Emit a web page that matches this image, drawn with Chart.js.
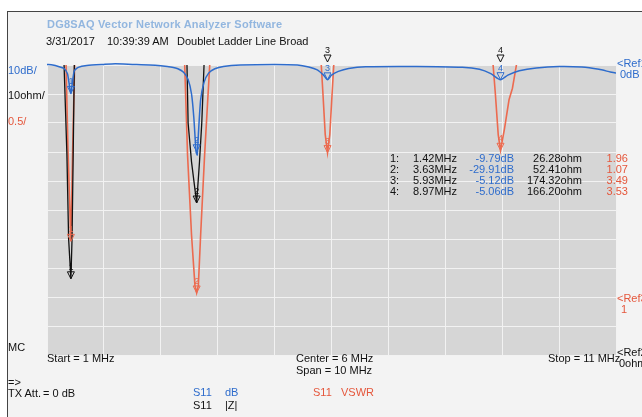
<!DOCTYPE html>
<html>
<head>
<meta charset="utf-8">
<script src="https://cdn.jsdelivr.net/npm/chart.js@4.4.0/dist/chart.umd.min.js"></script>
<style>
html, body { margin: 0; padding: 0; background: #fff; }
#wrap { position: relative; width: 642px; height: 417px; overflow: hidden; font-family: "Liberation Sans", Arial, sans-serif; font-size: 11px; color: #111; }
#frame { position: absolute; left: 7px; top: 11px; right: 0; bottom: 0; background: #f3f3f3; border-left: 1px solid #444; border-top: 1px solid #444; }
#chart { position: absolute; left: 0; top: 0; }
.t { position: absolute; white-space: pre; line-height: 12px; }
.blue { color: #2e6ccc; }
.red { color: #e5573c; }
.title { color: #92b6df; font-weight: bold; font-size: 11px; letter-spacing: 0.2px; }
.mk { position: absolute; font-size: 9px; line-height: 10px; width: 10px; text-align: center; }
.r { text-align: right; }
</style>
</head>
<body>
<div id="wrap">
  <div id="frame"></div>
  <canvas id="chart" width="642" height="417"></canvas>

  <div class="t title" style="left:47px;top:18px;">DG8SAQ Vector Network Analyzer Software</div>
  <div class="t" style="left:46px;top:35px;">3/31/2017</div>
  <div class="t" style="left:107px;top:35px;">10:39:39 AM</div>
  <div class="t" style="left:177px;top:35px;">Doublet Ladder Line Broad</div>

  <div class="t blue" style="left:8px;top:64px;">10dB/</div>
  <div class="t" style="left:8px;top:89px;">10ohm/</div>
  <div class="t red" style="left:8px;top:115px;">0.5/</div>

  <div class="t blue" style="left:617px;top:57px;">&lt;Ref1</div>
  <div class="t blue" style="left:620px;top:68px;">0dB</div>
  <div class="t red" style="left:617px;top:292px;">&lt;Ref3</div>
  <div class="t red" style="left:621px;top:303px;">1</div>
  <div class="t" style="left:617px;top:346px;">&lt;Ref2</div>
  <div class="t" style="left:619px;top:357px;">0ohm</div>

  <div class="t" style="left:8px;top:341px;">MC</div>
  <div class="t" id="startLbl" style="left:47px;top:352px;"></div>
  <div class="t" id="centerLbl" style="left:296px;top:352px;"></div>
  <div class="t" id="spanLbl" style="left:296px;top:364px;"></div>
  <div class="t" id="stopLbl" style="left:548px;top:352px;"></div>

  <div class="t" style="left:8px;top:376px;">=&gt;</div>
  <div class="t" style="left:8px;top:387px;">TX Att.</div>
  <div class="t" style="left:43px;top:387px;">= 0 dB</div>

  <div class="t blue" style="left:193px;top:386px;">S11</div>
  <div class="t blue" style="left:225px;top:386px;">dB</div>
  <div class="t red" style="left:313px;top:386px;">S11</div>
  <div class="t red" style="left:341px;top:386px;">VSWR</div>
  <div class="t" style="left:193px;top:399px;">S11</div>
  <div class="t" style="left:225px;top:399px;">|Z|</div>

  <div id="table"></div>
</div>
<script>
// sweep
const startMHz = 1;
const stopMHz = 11;

// S11 in dB (blue)
const freqDb = [1.00, 1.10, 1.20, 1.30, 1.36, 1.40, 1.42, 1.44, 1.48, 1.55, 1.70, 2.00, 2.20, 2.50, 2.80, 3.00,
  3.20, 3.30, 3.40, 3.48, 3.54, 3.58, 3.62, 3.64, 3.66, 3.70, 3.76, 3.84, 3.95, 4.10, 4.40, 5.00,
  5.40, 5.60, 5.75, 5.86, 5.93, 6.00, 6.12, 6.30, 6.60, 7.50, 8.30, 8.60, 8.80, 8.97, 9.10, 9.30,
  9.60, 10.00, 10.40, 10.70, 10.90, 11.00];
const s11Db = [0.2, 0.0, -0.5, -1.2, -3, -8, -9.8, -7, -2, -0.8, -0.2, 0.2, 0.4, 0.2, 0.0, -0.3,
  -0.8, -1.3, -2.5, -5, -10, -18, -30, -31, -24, -12, -6, -2.8, -1.3, -0.5, 0.0, 0.2,
  0.0, -0.7, -1.7, -3.5, -5.1, -3.5, -2.2, -1.2, -0.6, -0.5, -0.8, -1.5, -3, -5.1, -3.5, -2,
  -1, -0.5, -0.7, -1.5, -2.4, -2.8];

// VSWR (red)
const freqVswr = [1.00, 1.30, 1.33, 1.37, 1.42, 1.45, 1.49, 1.52, 2.50, 3.40, 3.42, 3.47, 3.54, 3.60, 3.63,
  3.66, 3.70, 3.77, 3.86, 3.89, 4.80, 5.79, 5.82, 5.85, 5.89, 5.93, 5.97, 6.01, 6.04, 6.07, 7.50,
  8.81, 8.84, 8.88, 8.93, 8.97, 9.04, 9.12, 9.18, 9.25, 9.29, 10.20, 11.00];
const vswr = [20, 9, 5.2, 3.5, 1.96, 3.5, 5.2, 9, 20, 7, 5, 3.45, 2.07, 1.2, 1.07,
  1.2, 2.07, 3.45, 5, 7, 20, 7, 5, 4.5, 3.8, 3.49, 3.8, 4.5, 5, 7, 20,
  7, 5, 4.5, 3.8, 3.53, 3.9, 4.4, 4.6, 5, 7, 20, 20];

// |Z| in ohm (black)
const freqZ = [1.00, 1.28, 1.30, 1.35, 1.38, 1.42, 1.44, 1.46, 1.48, 1.50, 2.50, 3.44, 3.46, 3.48, 3.54,
  3.63, 3.68, 3.72, 3.76, 3.78, 5.00, 11.00];
const zOhm = [200, 130, 100, 69, 40, 26.3, 40, 69, 100, 130, 200, 130, 100, 80, 66.6,
  52.4, 66.6, 80, 100, 130, 200, 200];

// markers
const markerFreq = [1.42, 3.63, 5.93, 8.97];
const markerDb = [-9.79, -29.91, -5.12, -5.06];
const markerOhm = [26.28, 52.41, 174.32, 166.20];
const markerVswr = [1.96, 1.07, 3.49, 3.53];

const BLUE = '#2e6ccc', RED = '#ec6a4f', BLACK = '#111';

const pts = (xs, ys) => xs.map((x, i) => ({ x: x, y: ys[i] }));

document.getElementById('startLbl').textContent = 'Start = ' + startMHz + ' MHz';
document.getElementById('centerLbl').textContent = 'Center = ' + (startMHz + stopMHz) / 2 + ' MHz';
document.getElementById('spanLbl').textContent = 'Span = ' + (stopMHz - startMHz) + ' MHz';
document.getElementById('stopLbl').textContent = 'Stop = ' + stopMHz + ' MHz';

// marker readout table
const table = document.getElementById('table');
const rowTop = [152, 163, 174, 185];
markerFreq.forEach((f, i) => {
  const top = rowTop[i];
  const cells = [
    ['t', 390, null, (i + 1) + ':', ''],
    ['t', 413, null, f.toFixed(2) + 'MHz', ''],
    ['t r blue', null, 514, markerDb[i].toFixed(2) + 'dB', ''],
    ['t r', null, 582, markerOhm[i].toFixed(2) + 'ohm', ''],
    ['t r red', null, 628, markerVswr[i].toFixed(2), '']
  ];
  cells.forEach(c => {
    const d = document.createElement('div');
    d.className = c[0];
    d.style.top = top + 'px';
    if (c[1] !== null) d.style.left = c[1] + 'px';
    else d.style.right = (642 - c[2]) + 'px';
    d.textContent = c[3];
    table.appendChild(d);
  });
});

const plotBg = {
  id: 'plotBg',
  beforeDraw(chart) {
    const a = chart.chartArea, ctx = chart.ctx;
    ctx.save();
    ctx.fillStyle = '#d6d6d6';
    ctx.fillRect(a.left, a.top, a.right - a.left, a.bottom - a.top);
    ctx.restore();
  }
};

function markerSpots(chart) {
  const out = [];
  markerFreq.forEach((f, i) => {
    const px = chart.scales.x.getPixelForValue(f);
    [['yV', markerVswr[i], RED], ['yZ', markerOhm[i], BLACK], ['y', markerDb[i], BLUE]].forEach(m => {
      const s = chart.scales[m[0]];
      let py = s.getPixelForValue(m[1]);
      if (m[1] > s.max) py = chart.chartArea.top - 3;
      out.push({ px: px, py: py, color: m[2], n: i + 1 });
    });
  });
  return out;
}

const markers = {
  id: 'markers',
  afterDatasetsDraw(chart) {
    const ctx = chart.ctx;
    ctx.save();
    ctx.lineWidth = 1;
    markerSpots(chart).forEach(m => {
      ctx.strokeStyle = m.color;
      ctx.beginPath();
      ctx.moveTo(m.px - 3.5, m.py - 7);
      ctx.lineTo(m.px + 3.5, m.py - 7);
      ctx.lineTo(m.px, m.py);
      ctx.closePath();
      ctx.stroke();
    });
    ctx.restore();
  }
};

const chart = new Chart(document.getElementById('chart'), {
  type: 'line',
  data: {
    datasets: [
      { data: pts(freqDb, s11Db), yAxisID: 'y', borderColor: BLUE, borderWidth: 1.5, pointRadius: 0, tension: 0.2,
        clip: { left: 0, top: 8, right: 0, bottom: 0 } },
      { data: pts(freqZ, zOhm), yAxisID: 'yZ', borderColor: BLACK, borderWidth: 1.3, pointRadius: 0 },
      { data: pts(freqVswr, vswr), yAxisID: 'yV', borderColor: RED, borderWidth: 1.6, pointRadius: 0 }
    ]
  },
  options: {
    responsive: false,
    animation: false,
    layout: { padding: { left: 47, top: 65, right: 26, bottom: 62 } },
    plugins: { legend: { display: false }, tooltip: { enabled: false } },
    scales: {
      x: { type: 'linear', min: startMHz, max: stopMHz,
        ticks: { display: false, stepSize: 1 },
        grid: { color: '#f2f2f2', lineWidth: 1, drawTicks: false },
        border: { display: false } },
      y: { min: -100, max: 0,
        ticks: { display: false, stepSize: 10 },
        grid: { color: '#f2f2f2', lineWidth: 1, drawTicks: false },
        border: { display: false } },
      yZ: { display: false, min: 0, max: 100 },
      yV: { display: false, min: 0, max: 5 }
    }
  },
  plugins: [plotBg, markers]
});

// marker numbers as text above each triangle
markerSpots(chart).forEach(m => {
  const d = document.createElement('div');
  d.className = 'mk';
  d.style.color = m.color;
  d.style.left = (m.px - 5) + 'px';
  d.style.top = (m.py - 17) + 'px';
  d.textContent = m.n;
  document.getElementById('wrap').appendChild(d);
});
</script>
</body>
</html>
